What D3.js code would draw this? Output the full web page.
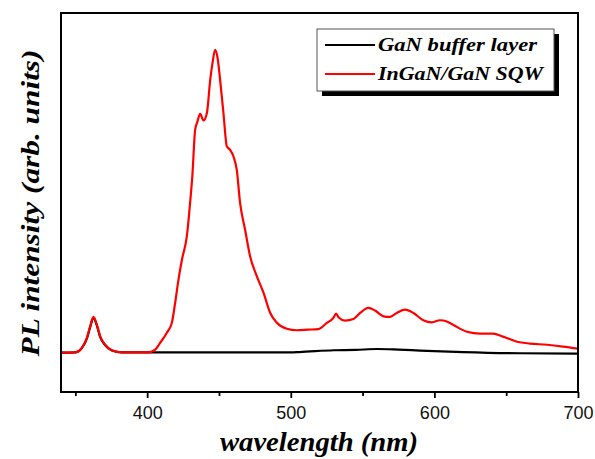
<!DOCTYPE html>
<html>
<head>
<meta charset="utf-8">
<script src="https://cdn.jsdelivr.net/npm/d3@7"></script>
<style>
  body { margin: 0; background: #fff; }
  .tick text { font-family: "Liberation Sans", Arial, sans-serif; }
</style>
</head>
<body>
<svg width="595" height="459"></svg>
<script>
// wavelength (nm) and PL intensity (arb. units)
const redWl = [340, 350, 354.5, 358, 360.3, 362.6, 365, 367.3, 370.8, 375.4, 382.4, 400.9, 405.6, 409, 413.7, 417.2,
  419.5, 421.8, 424.2, 427.6, 429.9, 431.5, 433.4, 435, 436.9, 439.2, 441.6, 443.9, 445.5, 447.3, 449, 450.8,
  453.1, 455.5, 457.8, 460.1, 462.4, 464.7, 468.2, 471.7, 476.4, 481, 485.6, 490.3, 497.2, 504.2, 512, 519.2,
  525.1, 529.7, 531.6, 533.2, 537.8, 543.6, 548.3, 554, 558.7, 564.5, 569.1, 573.8, 579.6, 585.4, 592.3, 598.2,
  603.9, 608.6, 613, 622.7, 631.8, 640.8, 647.8, 657.5, 666.6, 678.4, 689.5, 700];
const redI = [0, 0.1, 1.6, 4.9, 8.7, 11.8, 9.2, 5.4, 2.6, 0.8, 0.1, 0.1, 1.0, 3.2, 6.6, 9.9,
  16.5, 24.1, 30.7, 38.4, 49.5, 58.7, 73.6, 76.3, 78.9, 76.7, 79.2, 90.1, 95.7, 100, 97.4, 90.1,
  79.2, 68.1, 67.0, 64.8, 60.4, 49.5, 40.6, 31.8, 25.2, 19.8, 13.2, 9.9, 7.9, 7.4, 7.6, 7.8,
  9.8, 11.5, 12.9, 11.7, 10.6, 11.1, 13.1, 14.8, 13.9, 12.0, 11.8, 13.1, 14.2, 13.1, 10.7, 10.0,
  10.7, 10.3, 9.2, 6.9, 6.3, 6.3, 5.3, 3.6, 3.0, 2.6, 2.0, 1.3];

const blackWl = [340, 350, 354.5, 358, 360.3, 362.6, 365, 367.3, 370.8, 375.4, 382.4, 400, 450, 500, 506, 530,
  545, 560, 575, 590, 620, 660, 700];
const blackI = [0, 0.1, 1.5, 4.6, 8.4, 11.5, 8.9, 5.1, 2.4, 0.7, 0.1, 0.1, 0.1, 0.1, 0.2, 0.8,
  0.9, 1.2, 1.0, 0.7, 0.2, -0.2, -0.3];

const xTicks = [400, 500, 600, 700];
const xMinorTicks = [350, 450, 550, 650];

const series = [
  {name: 'GaN buffer layer', color: '#000000', wl: blackWl, val: blackI},
  {name: 'InGaN/GaN SQW', color: '#ff0000', wl: redWl, val: redI}
];

const svg = d3.select('svg');
const width = +svg.attr('width');
const height = +svg.attr('height');
const margin = {top: 13, right: 17, bottom: 67, left: 61};
const innerWidth = width - margin.left - margin.right;
const innerHeight = height - margin.top - margin.bottom;

const g = svg.append('g').attr('transform', `translate(${margin.left},${margin.top})`);

const xScale = d3.scaleLinear().domain([340, 700]).range([0, innerWidth]);
const yScale = d3.scaleLinear().domain([-13, 112.2]).range([innerHeight, 0]);

const lineGen = (s) => d3.line()
  .x((d, i) => xScale(s.wl[i]))
  .y((d, i) => yScale(s.val[i]))
  .curve(d3.curveMonotoneX)(s.val);

// curves, black first so red sits on top
series.forEach(s => {
  g.append('path')
    .attr('d', lineGen(s))
    .attr('fill', 'none')
    .attr('stroke', s.color)
    .attr('stroke-width', 2.2)
    .attr('stroke-linejoin', 'round');
});

// minor ticks (no labels)
const minorAxis = d3.axisBottom(xScale).tickValues(xMinorTicks).tickSize(4).tickFormat('');
const minorG = g.append('g').attr('transform', `translate(0,${innerHeight})`).call(minorAxis);
minorG.select('.domain').remove();
minorG.selectAll('text').remove();
minorG.selectAll('line').attr('stroke-width', 1.8);

const xAxis = d3.axisBottom(xScale).tickValues(xTicks).tickSize(6).tickPadding(8).tickSizeOuter(0);
const xAxisG = g.append('g').attr('transform', `translate(0,${innerHeight})`).call(xAxis);
xAxisG.select('.domain').remove();
xAxisG.selectAll('line').attr('stroke-width', 1.8);
xAxisG.selectAll('text').attr('font-size', 18).attr('fill', '#111');

// frame
g.append('rect')
  .attr('width', innerWidth)
  .attr('height', innerHeight)
  .attr('fill', 'none')
  .attr('stroke', '#000')
  .attr('stroke-width', 2);

const serif = '"Liberation Serif", "Times New Roman", serif';

// axis titles
svg.append('text')
  .attr('x', 319)
  .attr('y', 451)
  .attr('text-anchor', 'middle')
  .attr('font-family', serif)
  .attr('font-weight', 'bold')
  .attr('font-style', 'italic')
  .attr('font-size', 27)
  .attr('textLength', 198)
  .attr('lengthAdjust', 'spacingAndGlyphs')
  .text('wavelength (nm)');

svg.append('text')
  .attr('transform', 'translate(39,203) rotate(-90)')
  .attr('text-anchor', 'middle')
  .attr('font-family', serif)
  .attr('font-weight', 'bold')
  .attr('font-style', 'italic')
  .attr('font-size', 25)
  .attr('textLength', 307)
  .attr('lengthAdjust', 'spacingAndGlyphs')
  .text('PL intensity (arb. units)');

// legend
const legendG = svg.append('g').attr('transform', 'translate(317,29)');
const legW = 237, legH = 62;
legendG.append('rect').attr('x', 5).attr('y', 5).attr('width', legW).attr('height', legH).attr('fill', '#000');
legendG.append('rect').attr('width', legW).attr('height', legH)
  .attr('fill', '#fff').attr('stroke', '#555').attr('stroke-width', 1);

const legendLengths = [159, 165];
series.forEach((s, i) => {
  const yy = 16 + i * 29;
  legendG.append('line')
    .attr('x1', 8).attr('x2', 58).attr('y1', yy).attr('y2', yy)
    .attr('stroke', s.color).attr('stroke-width', 2.2);
  legendG.append('text')
    .attr('x', 61).attr('y', yy + 6)
    .attr('font-family', serif)
    .attr('font-weight', 'bold')
    .attr('font-style', 'italic')
    .attr('font-size', 19)
    .attr('textLength', legendLengths[i])
    .attr('lengthAdjust', 'spacingAndGlyphs')
    .text(s.name);
});
</script>
</body>
</html>
